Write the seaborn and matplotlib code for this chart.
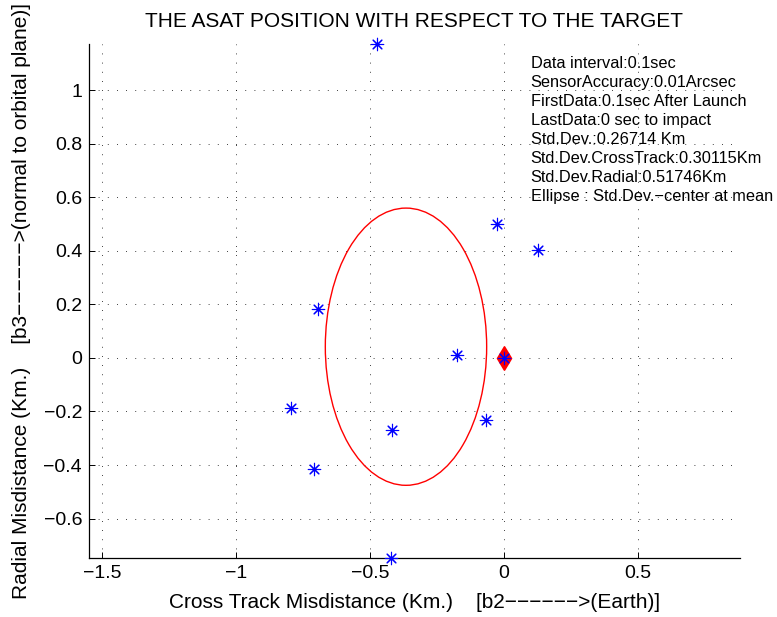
import matplotlib
matplotlib.use("Agg")
import matplotlib.pyplot as plt
from matplotlib.patches import Ellipse
import numpy as np
import pandas as pd
import seaborn as sns

# ASAT miss positions (Km.)
cross_track = [-0.473, -0.027, 0.126, -0.693, -0.176, -0.796, -0.419, -0.067, -0.709, -0.422]
radial = [1.172, 0.500, 0.403, 0.183, 0.011, -0.188, -0.269, -0.231, -0.415, -0.747]

# the target sits at the origin
target_x = [0.0]
target_y = [0.0]

std_cross = 0.30115
std_radial = 0.51746

info_lines = [
    "Data interval:0.1sec",
    "SensorAccuracy:0.01Arcsec",
    "FirstData:0.1sec After Launch",
    "LastData:0 sec to impact",
    "Std.Dev.:0.26714 Km",
    "Std.Dev.CrossTrack:0.30115Km",
    "Std.Dev.Radial:0.51746Km",
    "Ellipse : Std.Dev.\u2212center at mean",
]

x_ticks = [-1.5, -1, -0.5, 0, 0.5]
y_ticks = [-0.6, -0.4, -0.2, 0, 0.2, 0.4, 0.6, 0.8, 1]

df = pd.DataFrame({"cross": cross_track, "radial": radial})
tgt = pd.DataFrame({"cross": target_x, "radial": target_y})

sns.set_style("ticks")
plt.rcParams["font.family"] = ["Liberation Sans", "DejaVu Sans"]
plt.rcParams["axes.unicode_minus"] = True
plt.rcParams["text.color"] = "black"
plt.rcParams["axes.labelcolor"] = "black"

fig = plt.figure(figsize=(7.77, 6.17), dpi=100)
ax = fig.add_axes([0.1145, 0.0956, 0.8378, 0.8331])

# ellipse: one std. dev. around the mean
ell = Ellipse((df["cross"].mean(), df["radial"].mean()),
              width=2 * std_cross, height=2 * std_radial,
              fill=False, edgecolor="red", linewidth=1.0, zorder=3)
ax.add_patch(ell)

# target: red diamond
sns.scatterplot(data=tgt, x="cross", y="radial", marker="d", s=140,
                color="red", edgecolor="red", linewidth=1.2, ax=ax, zorder=4)

# asat positions: blue asterisks
star = (8, 2, 0)
sns.scatterplot(data=pd.concat([df, tgt]), x="cross", y="radial", marker=star, s=80,
                color="blue", edgecolor="blue", linewidth=0.8, ax=ax,
                clip_on=False, zorder=5)

ax.set_xlim(-1.549, 0.881)
ax.set_ylim(min(radial), max(radial))
ax.set_xticks(x_ticks)
ax.set_yticks(y_ticks)
ax.set_xticklabels(["\u22121.5", "\u22121", "\u22120.5", "0", "0.5"])
ax.set_yticklabels(["\u22120.6", "\u22120.4", "\u22120.2", "0", "0.2", "0.4", "0.6", "0.8", "1"])

ax.grid(True, color="black", linestyle=(0, (1, 10)), linewidth=0.6)
ax.tick_params(direction="in", length=4.5, width=0.7, labelsize=14, pad=5, colors="black")
sns.despine(ax=ax)
for s in ["left", "bottom"]:
    ax.spines[s].set_color("black")
    ax.spines[s].set_linewidth(0.9)

ax.set_title("THE ASAT POSITION WITH RESPECT TO THE TARGET", fontsize=15, pad=12)
ax.set_xlabel("Cross Track Misdistance (Km.)    [b2\u2212\u2212\u2212\u2212\u2212\u2212>(Earth)]",
              fontsize=15, labelpad=8)
ax.set_ylabel("Radial Misdistance (Km.)    [b3\u2212\u2212\u2212\u2212\u2212\u2212>(normal to orbital plane)]",
              fontsize=15, labelpad=9)

# info block, one line after the other
for i, line in enumerate(info_lines):
    ax.text(0.1, 1.1 - i * 0.0709, line, fontsize=11.8, ha="left", va="center")

fig.savefig("out.png", dpi=100)
